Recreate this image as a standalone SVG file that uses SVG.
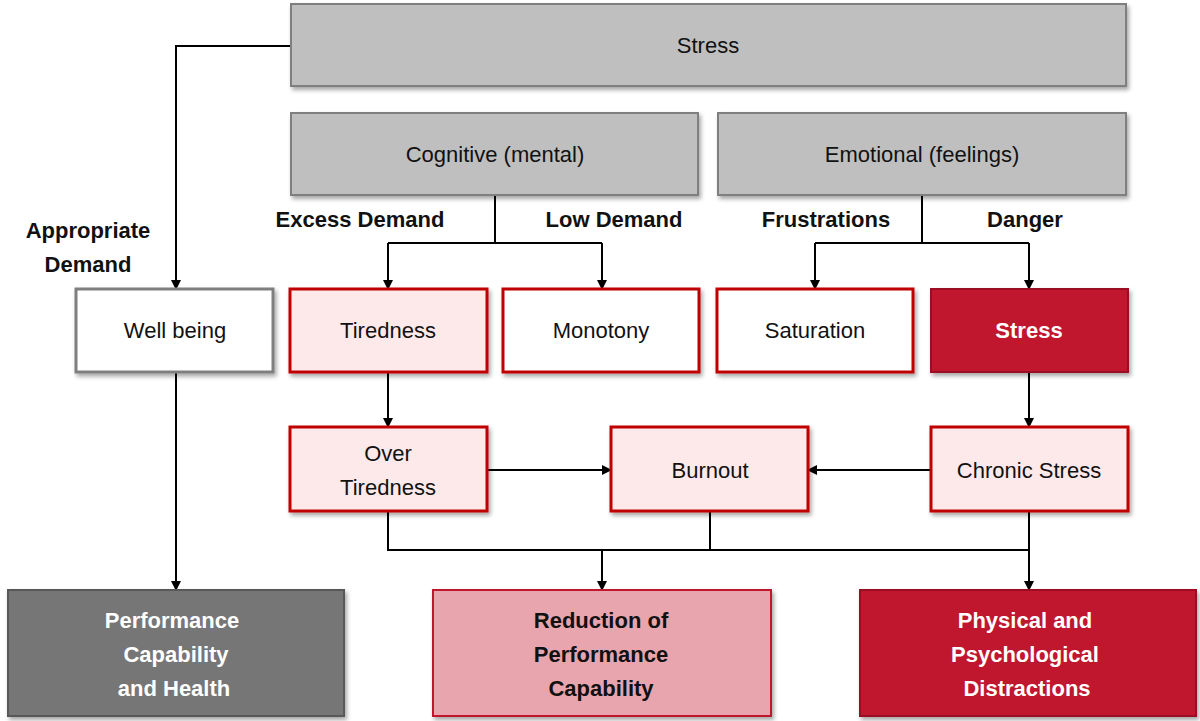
<svg xmlns="http://www.w3.org/2000/svg" width="1200" height="721" viewBox="0 0 1200 721">
<defs>
<marker id="ah" markerWidth="10" markerHeight="10" refX="9" refY="5" orient="auto" markerUnits="userSpaceOnUse"><path d="M0,0 L10,5 L0,10 z" fill="#000"/></marker>
<filter id="sh" x="-5%" y="-5%" width="115%" height="120%"><feDropShadow dx="2" dy="3" stdDeviation="2" flood-opacity="0.35"/></filter>
</defs>
<style>
text{font-family:"Liberation Sans","Open Sans",sans-serif;font-size:22px;text-anchor:middle;fill:#111}
.b{font-weight:bold}
.w{fill:#fff;font-weight:bold}
.grey{fill:#bfbfbf;stroke:#7f7f7f;stroke-width:2}
.white{fill:#fff;stroke:#7f7f7f;stroke-width:3}
.pinkw{fill:#fff;stroke:#c00000;stroke-width:3}
.pink{fill:#fde9ea;stroke:#c00000;stroke-width:3}
.red{fill:#c0192f;stroke:#9b1020;stroke-width:2}
.dk{fill:#767676;stroke:#595959;stroke-width:2}
.rose{fill:#e8a5ad;stroke:#c0192f;stroke-width:2}
rect{filter:url(#sh)}
.c path{fill:none;stroke:#000;stroke-width:2}
</style>
<g class="c">
<path d="M291,46 H176 V289" marker-end="url(#ah)"/>
<path d="M495,195 V243 M388,243 H602"/>
<path d="M388,243 V289" marker-end="url(#ah)"/>
<path d="M602,243 V289" marker-end="url(#ah)"/>
<path d="M922,195 V243 M815,243 H1029"/>
<path d="M815,243 V289" marker-end="url(#ah)"/>
<path d="M1029,243 V289" marker-end="url(#ah)"/>
<path d="M388,372 V427" marker-end="url(#ah)"/>
<path d="M1029,372 V427" marker-end="url(#ah)"/>
<path d="M487,470 H611" marker-end="url(#ah)"/>
<path d="M931,470 H808" marker-end="url(#ah)"/>
<path d="M176,372 V590" marker-end="url(#ah)"/>
<path d="M388,511 V550 H1029 V511 M710,511 V550"/>
<path d="M602,550 V590" marker-end="url(#ah)"/>
<path d="M1029,550 V590" marker-end="url(#ah)"/>
</g>
<g id="stress-top"><rect class="grey" x="291" y="4" width="835" height="82"/><text x="708" y="53">Stress</text></g>
<g id="cognitive"><rect class="grey" x="291" y="113" width="407" height="82"/><text x="495" y="162">Cognitive (mental)</text></g>
<g id="emotional"><rect class="grey" x="718" y="113" width="408" height="82"/><text x="922" y="162">Emotional (feelings)</text></g>
<g id="labels">
<text class="b" x="88" y="238">Appropriate</text><text class="b" x="88" y="272">Demand</text>
<text class="b" x="360" y="227">Excess Demand</text>
<text class="b" x="614" y="227">Low Demand</text>
<text class="b" x="826" y="227">Frustrations</text>
<text class="b" x="1025" y="227">Danger</text>
</g>
<g id="wellbeing"><rect class="white" x="76" y="289" width="197" height="83"/><text x="175" y="338">Well being</text></g>
<g id="tiredness"><rect class="pink" x="290" y="289" width="197" height="83"/><text x="388" y="338">Tiredness</text></g>
<g id="monotony"><rect class="pinkw" x="503" y="289" width="196" height="83"/><text x="601" y="338">Monotony</text></g>
<g id="saturation"><rect class="pinkw" x="717" y="289" width="196" height="83"/><text x="815" y="338">Saturation</text></g>
<g id="stress-red"><rect class="red" x="931" y="289" width="197" height="83"/><text class="w" x="1029" y="338">Stress</text></g>
<g id="overtiredness"><rect class="pink" x="290" y="427" width="197" height="84"/><text x="388" y="461">Over</text><text x="388" y="495">Tiredness</text></g>
<g id="burnout"><rect class="pink" x="611" y="427" width="197" height="84"/><text x="710" y="478">Burnout</text></g>
<g id="chronic"><rect class="pink" x="931" y="427" width="197" height="84"/><text x="1029" y="478">Chronic Stress</text></g>
<g id="perf"><rect class="dk" x="8" y="590" width="336" height="126"/><text class="w" x="172" y="628">Performance</text><text class="w" x="176" y="662">Capability</text><text class="w" x="174" y="696">and Health</text></g>
<g id="reduction"><rect class="rose" x="433" y="590" width="338" height="126"/><text class="b" x="601" y="628">Reduction of</text><text class="b" x="601" y="662">Performance</text><text class="b" x="601" y="696">Capability</text></g>
<g id="physical"><rect class="red" x="860" y="590" width="336" height="126"/><text class="w" x="1025" y="628">Physical and</text><text class="w" x="1025" y="662">Psychological</text><text class="w" x="1027" y="696">Distractions</text></g>
</svg>
